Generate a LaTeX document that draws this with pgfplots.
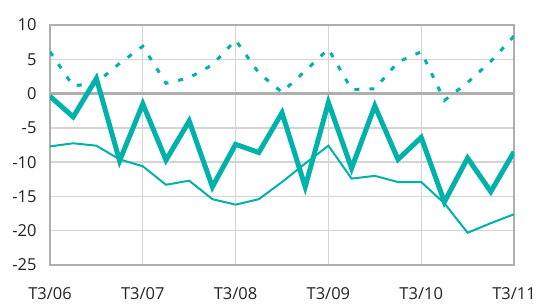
\documentclass[border=0pt]{standalone}
\usepackage{pgfplots}
\pgfplotsset{compat=1.18}
\usepackage{fontspec}
\setmainfont{Open Sans}
\definecolor{teal1}{RGB}{0,178,170}
\definecolor{txt}{RGB}{35,35,35}
\definecolor{gridc}{RGB}{212,212,212}
\definecolor{framec}{RGB}{175,175,175}
\begin{document}
\begin{tikzpicture}
\useasboundingbox (-50pt,-41pt) rectangle (487pt,265pt);
\begin{axis}[
  scale only axis,
  width=464pt, height=240pt,
  xmin=0, xmax=20, ymin=-25, ymax=10,
  xtick={0,4,8,12,16,20},
  xticklabels={T3/06,T3/07,T3/08,T3/09,T3/10,T3/11},
  ytick={-25,-20,...,10},
  major tick length=0pt,
  grid=major,
  major grid style={gridc, line width=1.3pt},
  axis line style={framec, line width=1.8pt},
  tick label style={font=\fontsize{16.5}{19}\selectfont, text=txt},
  /pgf/number format/assume math mode=true,
  yticklabel style={xshift=-10pt},
  xticklabel style={yshift=-19pt},
]
\draw[framec, line width=2.4pt] (axis cs:0,0) -- (axis cs:20,0);
\draw[framec, line width=1.8pt] (axis cs:0,10) -- (axis cs:20,10) -- (axis cs:20,-25);
\addplot[teal1, line width=3pt, dash pattern=on 5pt off 10pt] coordinates {
(0,6.1) (1,1.1) (2,1.6) (3,4.4) (4,6.9) (5,1.5) (6,2.3) (7,4.2) (8,7.8) (9,3.0) (10,0.2)
(11,3.3) (12,6.5) (13,0.6) (14,0.7) (15,4.6) (16,6.1) (17,-1.0) (18,1.6) (19,4.7) (20,8.4)};
\addplot[teal1, line width=2pt] coordinates {
(0,-7.7) (1,-7.25) (2,-7.6) (3,-9.6) (4,-10.6) (5,-13.3) (6,-12.7) (7,-15.4) (8,-16.2) (9,-15.4) (10,-12.9)
(11,-10.2) (12,-7.6) (13,-12.4) (14,-12.0) (15,-12.9) (16,-12.9) (17,-16.0) (18,-20.3) (19,-18.9) (20,-17.6)};
\addplot[teal1, line width=5pt] coordinates {
(0,-0.4) (1,-3.4) (2,2.2) (3,-9.8) (4,-1.5) (5,-9.7) (6,-4.0) (7,-13.6) (8,-7.4) (9,-8.6) (10,-2.8)
(11,-13.6) (12,-1.3) (13,-10.9) (14,-1.8) (15,-9.6) (16,-6.4) (17,-15.8) (18,-9.4) (19,-14.3) (20,-8.5)};
\end{axis}
\end{tikzpicture}
\end{document}
